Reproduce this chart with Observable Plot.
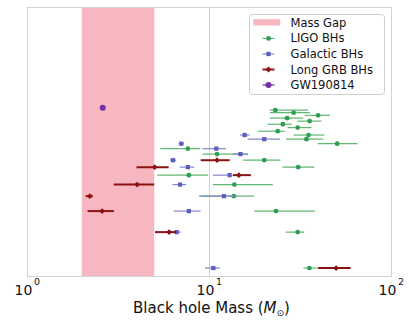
<!DOCTYPE html>
<html>
<head>
<meta charset="utf-8">
<script src="https://cdn.jsdelivr.net/npm/d3@7"></script>
<script src="https://cdn.jsdelivr.net/npm/@observablehq/plot@0.6"></script>
<style>
  html, body { margin: 0; padding: 0; background: #fff; }
  #wrap { position: relative; width: 409px; height: 320px; font-family: "DejaVu Sans", sans-serif; }
  #legend { position: absolute; left: 249px; top: 14px; }
</style>
</head>
<body>
<div id="wrap"></div>
<script>
// ---- data ----
const gap = [2, 5];
const xTicks = [1, 10, 100];
const xExps = ["0", "1", "2"];
const xLabel = "Black hole Mass (M⊙)";
const legendNames = ["Mass Gap", "LIGO BHs", "Galactic BHs", "Long GRB BHs", "GW190814"];

const ligoRow  = [21, 20, 19, 18, 17, 16, 15, 14, 13, 12, 11, 10, 9, 8, 7, 6, 5, 4, 3, 2, 1];
const ligoMass = [23.0, 29.0, 39.5, 26.7, 35.5, 25.3, 30.5, 23.7, 35.0, 34.1, 50.3, 7.6, 11.0, 20.0, 30.7, 7.7, 13.7, 13.6, 23.2, 30.5, 35.4];
const ligoLo   = [21.5, 21.6, 33.6, 21.6, 30.6, 21.0, 27.0, 18.6, 29.2, 26.5, 39.6, 5.4, 9.2, 15.4, 25.3, 5.2, 10.5, 8.8, 17.7, 26.4, 33.0];
const ligoHi   = [35.0, 35.8, 46.2, 32.9, 41.5, 28.5, 36.6, 26.1, 43.0, 42.5, 65.6, 8.9, 16.4, 24.7, 37.9, 9.9, 22.4, 17.7, 38.2, 33.4, 39.7];

const galRow  = [13, 12, 11, 10, 9, 8, 7, 6, 5, 4, 3, 2, 1];
const galMass = [15.6, 20.0, 7.0, 10.9, 14.8, 6.3, 7.6, 12.9, 6.9, 12.0, 7.7, 6.6, 10.5];
const galLo   = [14.8, 16.3, 6.8, 9.2, 13.5, 6.1, 6.9, 10.5, 6.3, 9.0, 6.4, 6.3, 9.5];
const galHi   = [16.7, 24.5, 7.3, 12.4, 16.4, 6.6, 8.3, 13.3, 7.5, 14.0, 9.0, 7.0, 11.5];

const grbRow  = [8, 7, 6, 5, 4, 3, 2, 1];
const grbMass = [11.0, 5.0, 14.5, 4.0, 2.2, 2.57, 6.0, 49.6];
const grbLo   = [9.0, 4.0, 13.5, 3.0, 2.1, 2.15, 5.05, 39.8];
const grbHi   = [13.0, 6.0, 17.0, 5.0, 2.3, 3.0, 6.6, 60.0];

const gwRow  = [22];
const gwMass = [2.59];

// ---- styles ----
const C = {
  pink: "#f7b7c0",
  green: "#2e9e50", greenLine: "#62b872",
  blue: "#5d5dbd", blueLine: "#8686d2",
  red: "#8b1212",
  purple: "#7232a8",
  grid: "#d2d2d2"
};

const toRows = (row, mass, lo, hi) => row.map((r, i) => ({row: r, mass: mass[i], lo: lo ? lo[i] : mass[i], hi: hi ? hi[i] : mass[i]}));
const ligo = toRows(ligoRow, ligoMass, ligoLo, ligoHi);
const gal = toRows(galRow, galMass, galLo, galHi);
const grb = toRows(grbRow, grbMass, grbLo, grbHi);
const gw = toRows(gwRow, gwMass);
const ticks = xTicks.map((t, i) => ({t, e: xExps[i]}));

const chart = Plot.plot({
  width: 409,
  height: 320,
  marginLeft: 27,
  marginRight: 18,
  marginTop: 7,
  marginBottom: 44,
  style: {fontFamily: "DejaVu Sans, sans-serif", background: "#fff"},
  x: {type: "log", domain: [1, 100], axis: null},
  y: {type: "log", domain: [0.85, 152], axis: null},
  marks: [
    Plot.rect([gap], {x1: d => d[0], x2: d => d[1], fill: C.pink}),
    Plot.ruleX([10], {stroke: C.grid, strokeWidth: 1}),
    Plot.frame({stroke: C.grid, strokeWidth: 1}),
    Plot.ruleY(ligo, {y: "row", x1: "lo", x2: "hi", stroke: C.greenLine, strokeWidth: 1.2}),
    Plot.dot(ligo, {x: "mass", y: "row", r: 2.4, fill: C.green, stroke: "none"}),
    Plot.ruleY(gal, {y: "row", x1: "lo", x2: "hi", stroke: C.blueLine, strokeWidth: 1.2}),
    Plot.dot(gal, {x: "mass", y: "row", symbol: "square", r: 2.4, fill: C.blue, stroke: "none"}),
    Plot.ruleY(grb, {y: "row", x1: "lo", x2: "hi", stroke: C.red, strokeWidth: 2}),
    Plot.dot(grb, {x: "mass", y: "row", symbol: "diamond2", r: 2.6, fill: C.red, stroke: "none"}),
    Plot.dot(gw, {x: "mass", y: "row", r: 3, fill: C.purple, stroke: "none"}),
    Plot.text(ticks, {x: "t", text: () => "10", frameAnchor: "bottom", lineAnchor: "middle", dy: 14.5, dx: -4, fontSize: 14, fill: "#111"}),
    Plot.text(ticks, {x: "t", text: "e", frameAnchor: "bottom", lineAnchor: "middle", dy: 5.5, dx: 9.5, fontSize: 9.5, fill: "#111"}),
    Plot.text([xLabel], {text: d => d, frameAnchor: "bottom", lineAnchor: "middle", dy: 32, dx: 2, fontSize: 15, fill: "#111", className: "xlabel"})
  ]
});

const wrap = document.getElementById("wrap");
wrap.appendChild(chart);

// rich axis label: italic M and subscript sun symbol
const lab = d3.select(chart).select("g.xlabel text");
if (!lab.empty()) {
  lab.text(null);
  lab.append("tspan").text("Black hole Mass (");
  lab.append("tspan").attr("font-style", "italic").text("M");
  lab.append("tspan").attr("font-size", 9).attr("dy", 3).text("⊙");
  lab.append("tspan").attr("dy", -3).text(")");
}

// legend overlay
const L = d3.select(wrap).append("svg").attr("id", "legend").attr("width", 137).attr("height", 82)
  .style("font-family", "DejaVu Sans, sans-serif");
L.append("rect").attr("x", 0.5).attr("y", 0.5).attr("width", 135).attr("height", 80).attr("rx", 3)
  .attr("fill", "#fff").attr("stroke", "#cfcfcf");
const rowsY = [8.7, 24.4, 40, 55.5, 71];
L.append("rect").attr("x", 4.3).attr("y", 5.2).attr("width", 27).attr("height", 6.3).attr("fill", C.pink);
const sym = [
  {c: C.green, lc: C.greenLine, s: d3.symbolCircle, r: 2.4, w: 1.2},
  {c: C.blue, lc: C.blueLine, s: d3.symbolSquare, r: 2.4, w: 1.2},
  {c: C.red, lc: C.red, s: d3.symbolDiamond2, r: 2.6, w: 2},
  {c: C.purple, lc: C.purple, s: d3.symbolCircle, r: 3, w: 1.2}
];
sym.forEach((d, i) => {
  const y = rowsY[i + 1];
  L.append("line").attr("x1", 13.5).attr("x2", 25.5).attr("y1", y).attr("y2", y).attr("stroke", d.lc).attr("stroke-width", d.w);
  L.append("path").attr("d", d3.symbol(d.s, Math.PI * d.r * d.r)()).attr("transform", `translate(19.5,${y})`).attr("fill", d.c);
});
legendNames.forEach((n, i) => {
  L.append("text").attr("x", 41.5).attr("y", rowsY[i]).attr("dy", "0.35em").attr("font-size", 11.5).attr("fill", "#111").text(n);
});
</script>
</body>
</html>
